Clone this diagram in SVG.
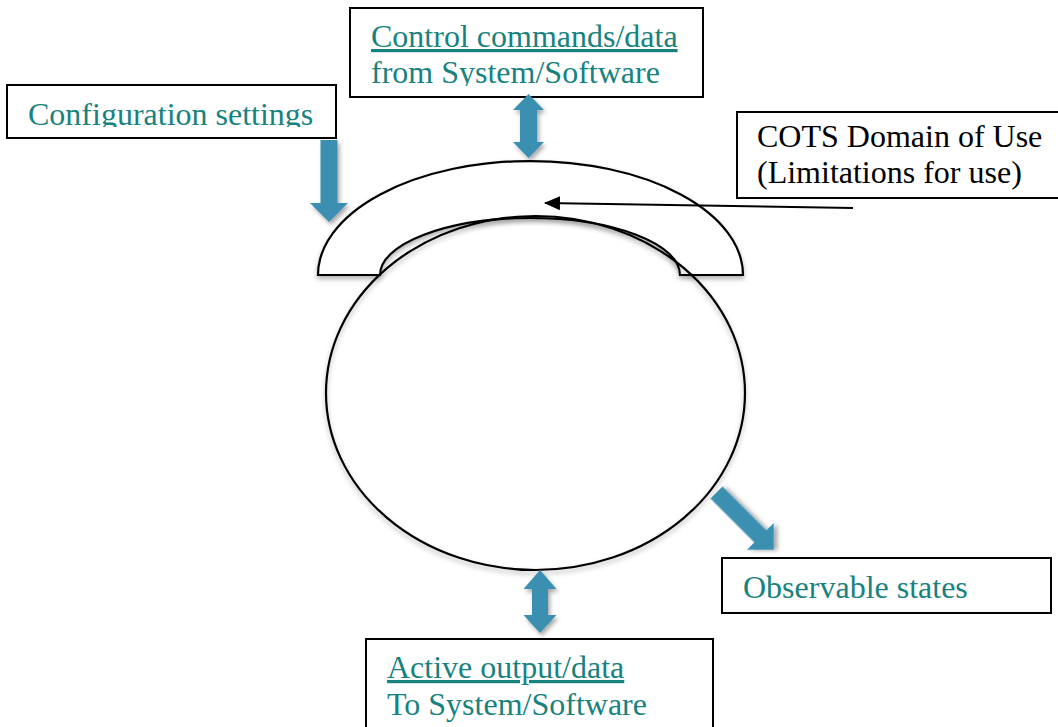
<svg xmlns="http://www.w3.org/2000/svg" width="1058" height="727" viewBox="0 0 1058 727">
  <style>
    .box { fill: #ffffff; stroke: #000000; stroke-width: 2; }
    .lbl { font-family: "Liberation Serif", "Times New Roman", serif; font-size: 32px; fill: #17827e; }
    .blk { fill: #000000; }
    .ul { text-decoration: underline; }
    .shape { fill: none; stroke: #000000; stroke-width: 2.2; }
    .barrow { fill: #3a8fb0; }
    .ptr { stroke: #000000; stroke-width: 2; fill: none; }
  </style>
  <defs>
    <filter id="sh" x="-30%" y="-30%" width="160%" height="160%">
      <feDropShadow dx="2" dy="3" stdDeviation="2" flood-color="#000000" flood-opacity="0.35"/>
    </filter>
    <filter id="sh2" x="-10%" y="-10%" width="120%" height="120%">
      <feDropShadow dx="0" dy="3" stdDeviation="2.5" flood-color="#000000" flood-opacity="0.3"/>
    </filter>
    <marker id="ah" markerWidth="16" markerHeight="14" refX="15" refY="7" orient="auto" markerUnits="userSpaceOnUse">
      <path d="M0,0 L16,7 L0,14 Z" fill="#000000"/>
    </marker>
    <clipPath id="clipTop"><rect x="350" y="8" width="353" height="78"/></clipPath>
    <clipPath id="clipCfg"><rect x="7" y="85" width="329" height="42"/></clipPath>
  </defs>

  <g id="domain">
    <path class="shape" filter="url(#sh2)" fill="#ffffff" style="fill:#ffffff" d="M318,275 A212.5,114 0 0 1 743,275 L680,275 A150,57 0 0 0 380,275 Z"/>
  </g>
  <g id="cots-component">
    <ellipse class="shape" filter="url(#sh2)" cx="535.5" cy="393" rx="209.5" ry="177"/>
  </g>

  <g id="node-control">
    <rect class="box" x="350" y="8" width="353" height="89"/>
    <g clip-path="url(#clipTop)">
      <text class="lbl ul" x="371" y="47">Control commands/data</text>
      <text class="lbl" x="371" y="83">from System/Software</text>
    </g>
  </g>

  <g id="node-config">
    <rect class="box" x="7" y="85" width="329" height="53"/>
    <g clip-path="url(#clipCfg)">
      <text class="lbl" x="28" y="125">Configuration settings</text>
    </g>
  </g>

  <g id="node-cots-domain">
    <rect class="box" x="737" y="112" width="330" height="86"/>
    <text class="lbl blk" x="757" y="147">COTS Domain of Use</text>
    <text class="lbl blk" x="757" y="183">(Limitations for use)</text>
  </g>

  <g id="node-observable">
    <rect class="box" x="722" y="558" width="329" height="55"/>
    <text class="lbl" x="743" y="598">Observable states</text>
  </g>

  <g id="node-active">
    <rect class="box" x="366" y="639" width="347" height="100"/>
    <text class="lbl ul" x="387" y="678">Active output/data</text>
    <text class="lbl" x="387" y="715">To System/Software</text>
  </g>

  <g id="connectors">
    <line class="ptr" x1="853" y1="208" x2="545" y2="203" marker-end="url(#ah)"/>
    <path class="barrow" filter="url(#sh)" d="M320.5,140 L337.5,140 L337.5,203 L348,203 L329,222 L310,203 L320.5,203 Z"/>
    <path class="barrow" filter="url(#sh)" d="M528.5,94 L544,110 L537,110 L537,142 L544,142 L528.5,158 L513,142 L520,142 L520,110 L513,110 Z"/>
    <path class="barrow" filter="url(#sh)" d="M540,570 L556.5,589 L548,589 L548,615 L556.5,615 L540,633 L523.5,615 L532,615 L532,589 L523.5,589 Z"/>
    <path class="barrow" filter="url(#sh)" transform="translate(716.5,492.5) rotate(-45)" d="M-8.5,0 L8.5,0 L8.5,62 L19,62 L0,81 L-19,62 L-8.5,62 Z"/>
  </g>
</svg>
